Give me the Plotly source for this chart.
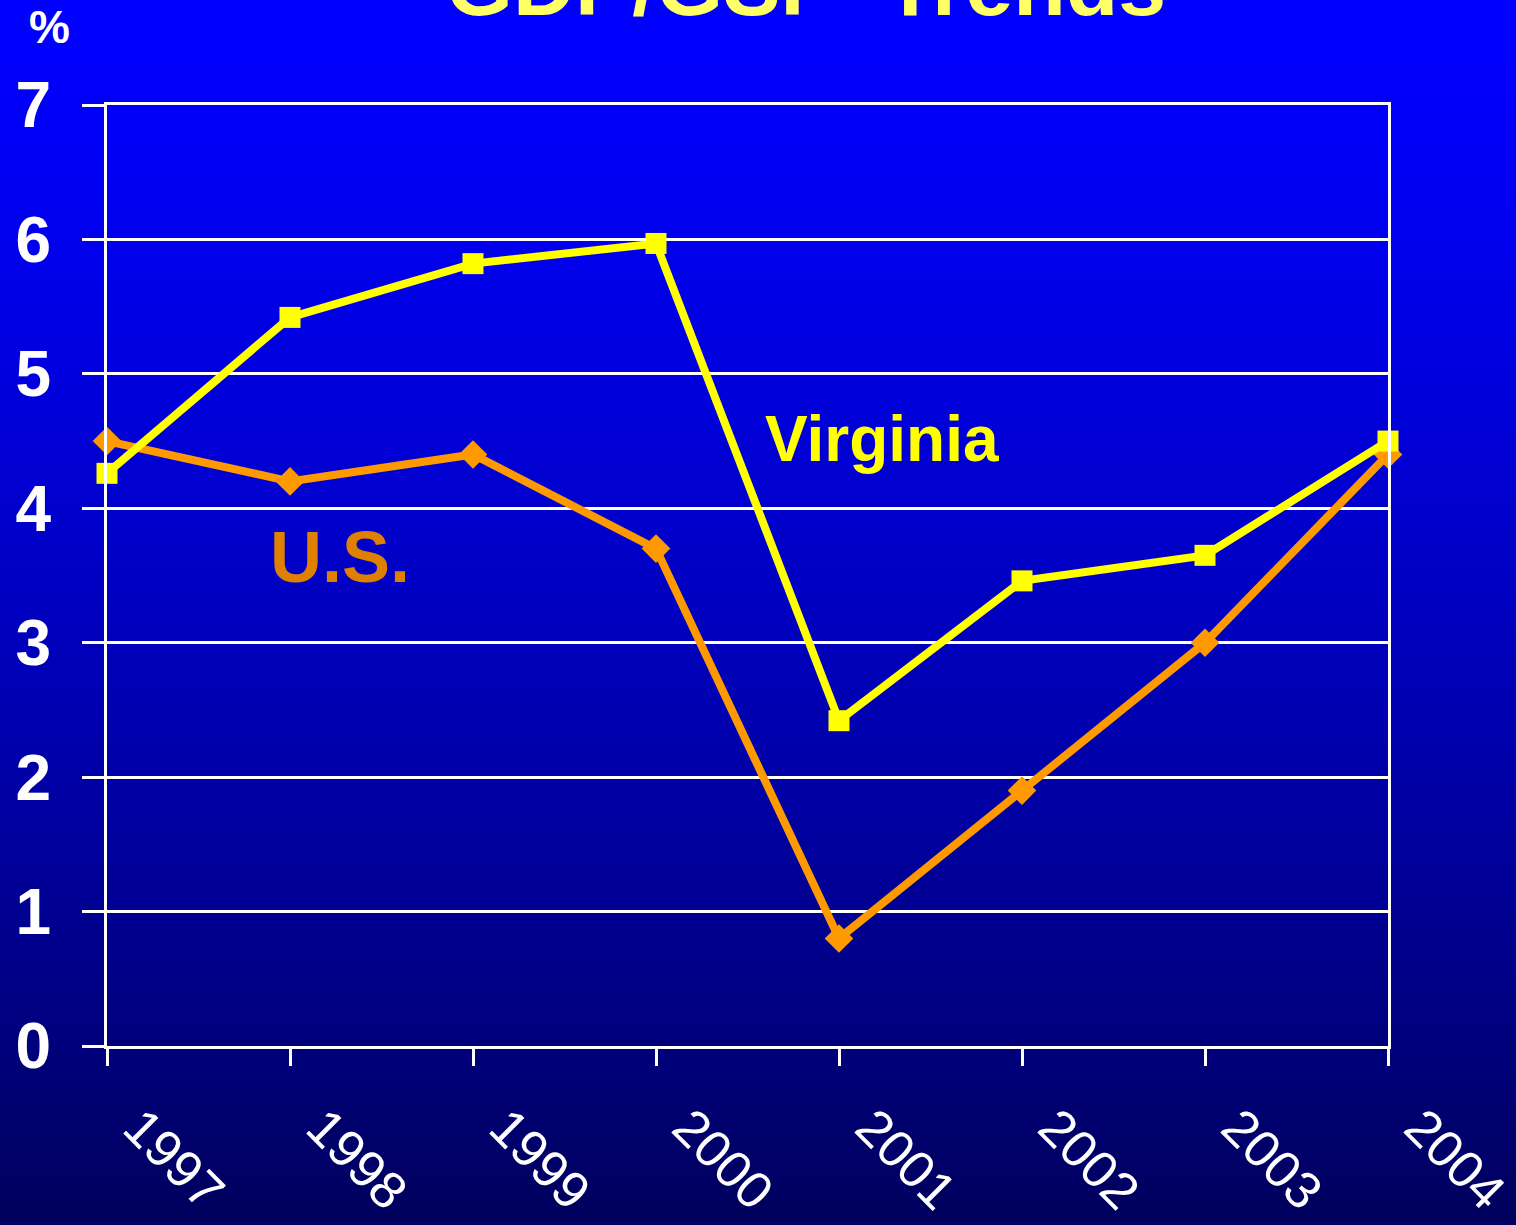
import plotly.graph_objects as go

years = ["1997", "1998", "1999", "2000", "2001", "2002", "2003", "2004"]
virginia = [4.26, 5.42, 5.82, 5.97, 2.42, 3.46, 3.65, 4.50]
us = [4.50, 4.20, 4.40, 3.70, 0.80, 1.90, 3.00, 4.40]
y_ticks = [0, 1, 2, 3, 4, 5, 6, 7]

W, H = 1516, 1225
L, R, T, B = 107, 128, 105, 179
PW, PH = W - L - R, H - T - B


def xp(px):
    return (px - L) / PW


def yp(py):
    return (H - B - py) / PH


fig = go.Figure()

fig.add_trace(go.Scatter(
    x=years, y=us, mode="lines+markers", name="U.S.",
    line=dict(color="#FF9900", width=8),
    marker=dict(symbol="diamond", size=22, color="#FF9900"),
    cliponaxis=False, showlegend=False,
))
fig.add_trace(go.Scatter(
    x=years, y=virginia, mode="lines+markers", name="Virginia",
    line=dict(color="#FFFF00", width=8),
    marker=dict(symbol="square", size=21, color="#FFFF00"),
    cliponaxis=False, showlegend=False,
))

# gradient background via strips
shapes = []
n = 122
step = H / n
for i in range(n):
    py0 = i * step
    py1 = (i + 1) * step + 1
    t = (i + 0.5) / n
    b = int(round(255 - (255 - 92) * t ** 1.35))
    shapes.append(dict(
        type="rect", xref="paper", yref="paper",
        x0=xp(-5), x1=xp(W + 5), y0=yp(py1), y1=yp(py0),
        fillcolor=f"rgb(0,0,{b})", line=dict(width=0), layer="below",
    ))

font = "Liberation Sans, Arial, sans-serif"

annotations = [
    dict(text="<b>GDP/GSP  Trends</b>", x=xp(806), y=yp(-15), xref="paper", yref="paper",
         showarrow=False, font=dict(family=font, size=86, color="#FFFF66"),
         xanchor="center", yanchor="middle"),
    dict(text="<b>%</b>", x=xp(49), y=yp(27), xref="paper", yref="paper",
         showarrow=False, font=dict(family=font, size=46, color="white"),
         xanchor="center", yanchor="middle"),
    dict(text="<b>Virginia</b>", x=xp(882), y=yp(439), xref="paper", yref="paper",
         showarrow=False, font=dict(family=font, size=64, color="#FFFF00"),
         xanchor="center", yanchor="middle"),
    dict(text="<b>U.S.</b>", x=xp(340), y=yp(557), xref="paper", yref="paper",
         showarrow=False, font=dict(family=font, size=72, color="#E08000"),
         xanchor="center", yanchor="middle"),
]

fig.update_layout(
    width=W, height=H, autosize=False,
    margin=dict(l=L, r=R, t=T, b=B, pad=0, autoexpand=False),
    paper_bgcolor="rgba(0,0,0,0)", plot_bgcolor="rgba(0,0,0,0)",
    shapes=shapes, annotations=annotations,
    xaxis=dict(
        type="category", range=[0, 7], showgrid=False, automargin=False,
        showline=True, linecolor="white", linewidth=3, mirror=True,
        ticks="outside", ticklen=17, tickwidth=3, tickcolor="white",
        tickangle=45, tickfont=dict(family=font, size=52, color="white"),
        ticklabelstandoff=10, ticklabelshift=32, zeroline=False,
    ),
    yaxis=dict(
        range=[0, 7], tickvals=y_ticks, ticktext=[f"<b>{v}</b>" for v in y_ticks],
        showgrid=True, gridcolor="white", gridwidth=3, automargin=False,
        showline=True, linecolor="white", linewidth=3, mirror=True,
        ticks="outside", ticklen=22, tickwidth=3, tickcolor="white",
        tickfont=dict(family=font, size=64, color="white"),
        ticklabelstandoff=18, zeroline=False,
    ),
)

fig.write_html(
    "out.html",
    config={"responsive": False, "displayModeBar": False, "staticPlot": True},
    post_script="document.documentElement.style.overflow='hidden';"
                "document.body.style.overflow='hidden';"
                "document.body.style.margin='0';document.body.style.padding='0';"
                "document.body.style.background='#000060';",
)
